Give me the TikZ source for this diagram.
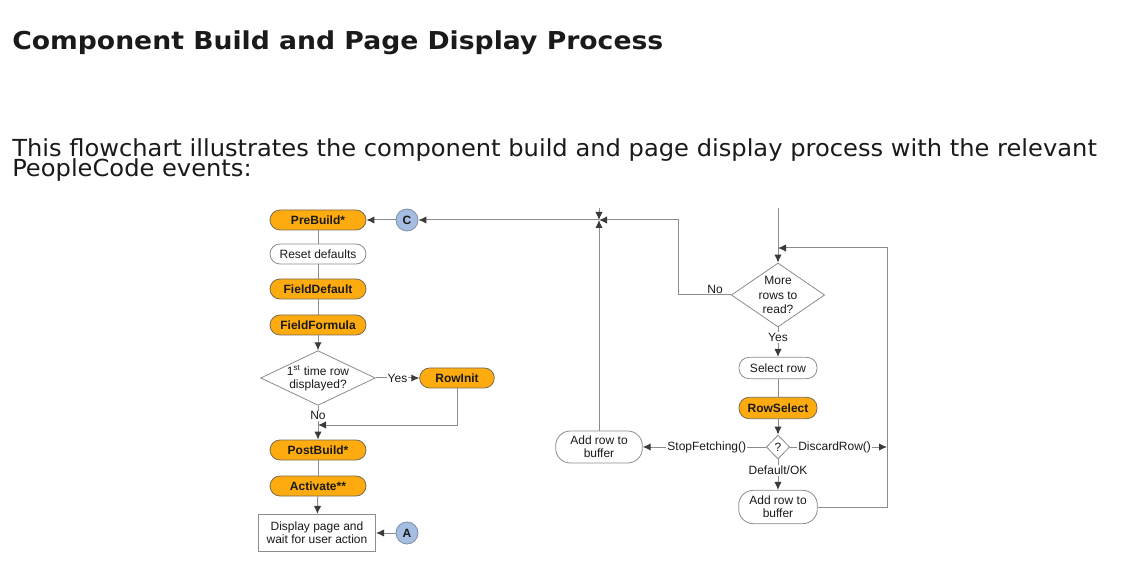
\documentclass[tikz,border=0pt]{standalone}
\usepackage{fontspec}
\setmainfont{Liberation Sans}
\newfontfamily\pagefont[FakeStretch=1.03]{DejaVu Sans}
\newfontfamily\headfont[FakeStretch=1.08]{DejaVu Sans}
\usetikzlibrary{arrows.meta,shapes.geometric}
\definecolor{evtfill}{HTML}{FDAB0F}
\definecolor{evtdraw}{HTML}{7A6A50}
\definecolor{conffill}{HTML}{A6BDE2}
\definecolor{confdraw}{HTML}{7D8EAA}
\definecolor{wire}{HTML}{8C8C8C}
\definecolor{tipdark}{HTML}{3A3A3A}
\definecolor{inktext}{HTML}{1A1A1A}

\begin{document}
\begin{tikzpicture}[
  x=0.75pt,
  y=-0.75pt,
  every node/.style={font=\fontsize{9}{10}\selectfont, text=inktext},
  evt/.style={draw=evtdraw, fill=evtfill, line width=0.6pt, rounded corners=7.5pt,
              minimum width=72pt, minimum height=15pt, inner sep=0pt,
              font=\fontsize{9}{10}\selectfont\bfseries},
  proc/.style={draw=wire, fill=white, line width=0.6pt, rounded corners=7.5pt,
               minimum width=72pt, minimum height=15pt, inner sep=0pt},
  tallproc/.style={proc, rounded corners=11pt, minimum width=59pt,
                   minimum height=25pt, align=center},
  decide/.style={draw=wire, fill=white, line width=0.6pt, diamond, inner sep=0pt},
  conn/.style={circle, draw=confdraw, fill=conffill, line width=0.6pt,
               minimum size=16.5pt, inner sep=0pt,
               font=\fontsize{9}{10}\selectfont\bfseries},
  link/.style={wire, line width=0.75pt},
  flow/.style={wire, line width=0.75pt,
               -{Latex[length=6pt, width=5.5pt, color=tipdark]}},
  lbl/.style={fill=white, inner sep=0.8pt}
]
  % ---- page frame, same size as the screenshot ----
  \useasboundingbox (0,0) rectangle (1142,566);

  % ---- page text ----
  \node[anchor=base west, inner sep=0pt, font=\headfont\bfseries\fontsize{18.5}{20}\selectfont]
    (title) at (12,50) {Component Build and Page Display Process};
  \node[anchor=base west, inner sep=0pt, font=\pagefont\fontsize{17.6}{20}\selectfont]
    (intro) at (12,157) {This flowchart illustrates the component build and page display process with the relevant};
  \node[anchor=base west, inner sep=0pt, font=\pagefont\fontsize{17.6}{20}\selectfont]
    (intro2) at (12,177) {PeopleCode events:};

  % ---- component build column ----
  \node[evt]  (pre)     at (318,220) {PreBuild*};
  \node[conn] (conC)    at (407,220) {C};
  \node[proc] (reset)   at (318,254) {Reset defaults};
  \node[evt]  (fdef)    at (318,289) {FieldDefault};
  \node[evt]  (fform)   at (318,325) {FieldFormula};
  \node[decide, minimum width=86pt, minimum height=41pt] (first) at (318,378) {};
  \node[align=center, inner sep=0pt, font=\fontsize{9}{9.5}\selectfont]
    (firsttxt) at (318,378) {1\textsuperscript{st} time row\\displayed?};
  \node[evt, minimum width=56pt] (rowinit) at (457,378) {RowInit};
  \coordinate (merge) at (318,425);
  \node[evt]  (post)    at (318,450) {PostBuild*};
  \node[evt]  (activ)   at (318,486) {Activate**};
  \node[draw=wire, fill=white, line width=0.6pt, minimum width=88pt,
        minimum height=28pt, inner sep=0pt, align=center]
    (disp) at (317,533) {Display page and\\wait for user action};
  \node[conn] (conA)    at (407,533) {A};

  \draw[link] (pre) -- (reset);
  \draw[link] (reset) -- (fdef);
  \draw[link] (fdef) -- (fform);
  \draw[flow] (fform) -- (first);
  \draw[flow] (first.east) -- node[lbl] {Yes} (rowinit.west);
  \draw[flow] (rowinit.south) |- (merge);
  \draw[flow] (first.south) -- node[lbl, pos=0.3] {No} (post.north);
  \draw[link] (post) -- (activ);
  \draw[flow] (activ) -- (disp);
  \draw[flow] (conA) -- (disp);
  \draw[flow] (conC) -- (pre);

  % ---- row fetch loop ----
  \coordinate (hub)     at (599,220);
  \coordinate (hubtop)  at (599,208);
  \coordinate (topin)   at (778,208);
  \coordinate (loopin)  at (778,248);
  \coordinate (rail)    at (887,400);
  \coordinate (dropin)  at (887,447);
  \node[decide, minimum width=70pt, minimum height=48pt] (more) at (778,295) {};
  \node[align=center, inner sep=0pt, font=\fontsize{9}{11}\selectfont]
    (moretxt) at (778,295) {More\\rows to\\read?};
  \node[proc, minimum width=58.5pt, minimum height=16pt] (sel)  at (778,368) {Select row};
  \node[evt,  minimum width=58.5pt, minimum height=16pt] (rsel) at (778,408) {RowSelect};
  \node[decide, minimum width=17.5pt, minimum height=18pt] (quest) at (778,447) {};
  \node[inner sep=0pt] (questtxt) at (778,447) {?};
  \node[tallproc] (addR) at (778,507) {Add row to\\buffer};
  \node[tallproc, minimum width=65pt, minimum height=24pt] (addL) at (599,447) {Add row to\\buffer};

  \draw[flow] (hub) -- (conC);
  \draw[flow] (hubtop) -- (hub);
  \draw[flow] (addL.north) -- (hub);
  \draw[flow] (more.west) -- node[pos=0.3, anchor=south, inner sep=1pt] {No} (678,295) |- (hub);
  \draw[flow] (topin) -- (more.north);
  \draw[flow] (addR.east) -| (rail) |- (loopin);
  \draw[flow] (more.south) -- node[lbl, pos=0.35] {Yes} (sel.north);
  \draw[link] (sel) -- (rsel);
  \draw[flow] (rsel) -- (quest);
  \draw[flow] (quest.west) -- node[lbl, pos=0.48] {StopFetching()} (addL.east);
  \draw[flow] (quest.east) -- node[lbl, pos=0.46] {DiscardRow()} (dropin);
  \draw[flow] (quest.south) -- node[lbl, pos=0.36] {Default/OK} (addR.north);
\end{tikzpicture}
\end{document}
